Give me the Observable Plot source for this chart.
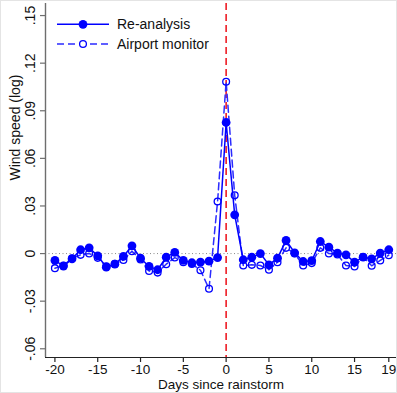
<!DOCTYPE html>
<html>
<head>
<meta charset="utf-8">
<script src="https://cdn.jsdelivr.net/npm/d3@7"></script>
<script src="https://cdn.jsdelivr.net/npm/@observablehq/plot@0.6"></script>
<style>
  body { margin: 0; background: #fff; }
  #wrap { position: relative; width: 397px; height: 393px; font-family: "Liberation Sans", Arial, sans-serif; }
  #wrap svg { display: block; }
  #border { position: absolute; left: 0; top: 0; width: 395px; height: 391px; border: 1px solid #e4e4e4; pointer-events: none; }
  #legend { position: absolute; left: 0; top: 0; }
</style>
</head>
<body>
<div id="wrap"><div id="border"></div></div>
<script>
const days = [-20,-19,-18,-17,-16,-15,-14,-13,-12,-11,-10,-9,-8,-7,-6,-5,-4,-3,-2,-1,0,1,2,3,4,5,6,7,8,9,10,11,12,13,14,15,16,17,18,19];
const reanalysis = [-0.0043,-0.0079,-0.0033,0.0024,0.0036,-0.0014,-0.0086,-0.0067,-0.0018,0.0049,
  -0.0029,-0.0081,-0.0102,-0.0023,0.0007,-0.0043,-0.0058,-0.0054,-0.0048,-0.0025,
  0.0826,0.0244,-0.0039,-0.0023,0.0000,-0.0071,-0.0029,0.0083,0.0005,-0.0050,
  -0.0045,0.0076,0.0040,0.0003,-0.0008,-0.0054,-0.0023,-0.0033,0.0003,0.0024];
const airport = [-0.0092,-0.0075,-0.0030,-0.0008,0.0000,-0.0027,-0.0080,-0.0065,-0.0041,0.0015,
  -0.0037,-0.0110,-0.0120,-0.0067,-0.0025,-0.0054,-0.0065,-0.0105,-0.0222,0.0328,
  0.1083,0.0368,-0.0075,-0.0071,-0.0075,-0.0102,-0.0054,0.0036,0.0000,-0.0075,
  -0.0060,0.0036,0.0000,-0.0006,-0.0075,-0.0081,-0.0022,-0.0077,-0.0043,-0.0010];
const xTicks = [-20,-15,-10,-5,0,5,10,15,19];
const yTicks = [-0.06,-0.03,0,0.03,0.06,0.09,0.12,0.15];
const yTickLabels = ["-.06","-.03","0",".03",".06",".09",".12",".15"];
const seriesNames = ["Re-analysis","Airport monitor"];
const xDomain = [-21.1, 19.9];
const yDomain = [-0.0655, 0.1576];
const eventDay = [0];
const baseline = [0];

const reData = days.map((d,i) => ({day: d, v: reanalysis[i]}));
const apData = days.map((d,i) => ({day: d, v: airport[i]}));
const yTickData = yTicks.map((t,i) => ({t, label: yTickLabels[i]}));

const blue = "#0000ff";
const blue2 = "#2b2bff";
const font = "Liberation Sans, Arial, sans-serif";

const chart = Plot.plot({
  width: 397, height: 393,
  marginLeft: 45, marginRight: 1, marginTop: 3, marginBottom: 36,
  style: {fontFamily: font, fontSize: "14px", background: "transparent", overflow: "visible"},
  x: {domain: xDomain, axis: null},
  y: {domain: yDomain, axis: null},
  marks: [
    Plot.ruleY(baseline, {stroke: "#8a8a8a", strokeDasharray: "1,2.5", strokeWidth: 1}),
    Plot.ruleX(eventDay, {stroke: "#ee1c25", strokeDasharray: "7,4", strokeWidth: 1.6}),
    // axes
    Plot.ruleX([xDomain[0]], {stroke: "#6e6e6e", strokeWidth: 1.4}),
    Plot.ruleY([yDomain[0]], {stroke: "#222", strokeWidth: 1.2}),
    Plot.axisY({ticks: yTicks, tickSize: 5, tickFormat: () => "", stroke: "#6e6e6e", strokeWidth: 1.2, label: null}),
    Plot.text(yTickData, {y: "t", text: "label", frameAnchor: "left", dx: -14.5, rotate: -90, textAnchor: "middle", lineAnchor: "middle", fontSize: 14, fill: "#111"}),
    Plot.axisX({ticks: xTicks, tickSize: 5, tickPadding: 2, tickFormat: d => String(d), stroke: "#222", strokeWidth: 1.2, fontSize: 13.5, label: null, fill: "#111"}),
    Plot.text(["Days since rainstorm"], {frameAnchor: "bottom", dy: 31, fontSize: 13.5, fill: "#111"}),
    Plot.text(["Wind speed (log)"], {frameAnchor: "left", dx: -30, rotate: -90, fontSize: 14, fill: "#111"}),
    // series
    Plot.line(apData, {x: "day", y: "v", stroke: blue2, strokeWidth: 1.5, strokeDasharray: "7,4"}),
    Plot.dot(apData, {x: "day", y: "v", r: 3.4, stroke: blue, strokeWidth: 1.3, fill: "none"}),
    Plot.line(reData, {x: "day", y: "v", stroke: blue, strokeWidth: 1.5}),
    Plot.dot(reData, {x: "day", y: "v", r: 4.4, fill: blue, stroke: "none"})
  ]
});
document.getElementById("wrap").appendChild(chart);

// legend
const ns = "http://www.w3.org/2000/svg";
const leg = document.createElementNS(ns, "svg");
leg.setAttribute("id", "legend");
leg.setAttribute("width", 240);
leg.setAttribute("height", 60);
const rows = [
  {y: 24.3, stroke: blue, dash: null, filled: true},
  {y: 44, stroke: blue2, dash: "7,4", filled: false}
];
rows.forEach((r, i) => {
  const ln = document.createElementNS(ns, "line");
  ln.setAttribute("x1", 57); ln.setAttribute("x2", 109);
  ln.setAttribute("y1", r.y); ln.setAttribute("y2", r.y);
  ln.setAttribute("stroke", r.stroke); ln.setAttribute("stroke-width", 1.5);
  if (r.dash) ln.setAttribute("stroke-dasharray", r.dash);
  leg.appendChild(ln);
  const c = document.createElementNS(ns, "circle");
  c.setAttribute("cx", 83); c.setAttribute("cy", r.y);
  if (r.filled) { c.setAttribute("r", 4.4); c.setAttribute("fill", blue); }
  else { c.setAttribute("r", 3.4); c.setAttribute("fill", "white"); c.setAttribute("stroke", blue); c.setAttribute("stroke-width", 1.3); }
  leg.appendChild(c);
  const t = document.createElementNS(ns, "text");
  t.setAttribute("x", 117); t.setAttribute("y", r.y + 5);
  t.setAttribute("font-family", font); t.setAttribute("font-size", 14);
  t.setAttribute("fill", "#111");
  t.textContent = seriesNames[i];
  leg.appendChild(t);
});
document.getElementById("wrap").appendChild(leg);
</script>
</body>
</html>
